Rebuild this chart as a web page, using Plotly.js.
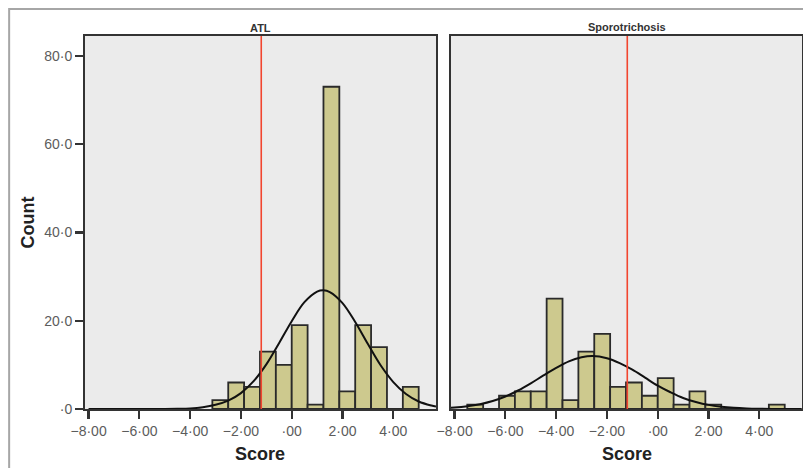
<!DOCTYPE html>
<html>
<head>
<meta charset="utf-8">
<script src="https://cdn.plot.ly/plotly-3.0.1.min.js"></script>
<style>
  html, body { margin: 0; padding: 0; background: #ffffff; }
  #chart { width: 803px; height: 468px; }
</style>
</head>
<body>
<div id="chart"></div>
<script>
// ---- Data ----
const panelTitles = ['ATL', 'Sporotrichosis'];
const binWidth = 0.625;

// ATL histogram: left edge of each bin and its count
const atlBinStart = [-3.125, -2.5, -1.875, -1.25, -0.625, 0, 0.625, 1.25, 1.875, 2.5, 3.125, 3.75, 4.375];
const atlCounts   = [2, 6, 5, 13, 10, 19, 1, 73, 4, 19, 14, 0, 5];

// Sporotrichosis histogram
const sporoBinStart = [-7.5, -6.875, -6.25, -5.625, -5.0, -4.375, -3.75, -3.125, -2.5, -1.875, -1.25, -0.625, 0, 0.625, 1.25, 1.875, 2.5, 3.125, 3.75, 4.375];
const sporoCounts   = [1, 0, 3, 4, 4, 25, 2, 13, 17, 5, 6, 3, 7, 1, 4, 1, 0, 0, 0, 1];

// Normal-curve overlays, points
const atlCurveX = [-8, -7, -6, -5, -4.5, -4, -3.5, -3, -2.5, -2, -1.5, -1, -0.5, 0, 0.5, 1, 1.25, 1.5, 2, 2.5, 3, 3.5, 4, 4.5, 5, 5.5, 5.68];
const atlCurveY = [0, 0, 0, 0.01, 0.04, 0.13, 0.4, 0.95, 1.9, 3.6, 6.3, 10.1, 14.9, 19.9, 24.2, 26.6, 26.9, 26.5, 24.0, 19.7, 14.7, 9.9, 6.1, 3.4, 1.7, 0.78, 0.57];

const sporoCurveX = [-8.18, -8, -7.5, -7, -6.5, -6, -5.5, -5, -4.5, -4, -3.5, -3, -2.57, -2, -1.5, -1, -0.5, 0, 0.5, 1, 1.5, 2, 2.5, 3, 3.5, 4, 4.5, 5, 5.67];
const sporoCurveY = [0.27, 0.32, 0.61, 1.09, 1.81, 2.84, 4.19, 5.82, 7.6, 9.3, 10.8, 11.7, 12.0, 11.5, 10.4, 8.9, 7.1, 5.3, 3.8, 2.5, 1.6, 0.93, 0.52, 0.27, 0.13, 0.06, 0.02, 0.01, 0];

// Reference (cut-off) line
const cutoff = -1.2;

// Axis ticks
const xTickVals = [-8, -6, -4, -2, 0, 2, 4];
const xTickText = ['\u22128\u00b700', '\u22126\u00b700', '\u22124\u00b700', '\u22122\u00b700', '\u00b700', '2\u00b700', '4\u00b700'];
const yTickVals = [0, 20, 40, 60, 80];
const yTickText = ['\u00b70', '20\u00b70', '40\u00b70', '60\u00b70', '80\u00b70'];
const xTitle = 'Score';
const yTitle = 'Count';

// ---- Styling ----
const FONT = 'Liberation Sans, Arial, sans-serif';
const barFill = '#cdc98e';
const barLine = '#2a2a2a';
const frameCol = '#333333';
const panelBg = '#ebebeb';
const tickCol = '#5c5c5c';

function barTrace(xs, ys, xa, ya) {
  return {
    type: 'bar', x: xs, y: ys, xaxis: xa, yaxis: ya,
    width: binWidth, offset: 0,
    marker: { color: barFill, line: { color: barLine, width: 1.8 } },
    hoverinfo: 'skip', showlegend: false
  };
}
function curveTrace(xs, ys, xa, ya) {
  return {
    type: 'scatter', mode: 'lines', x: xs, y: ys, xaxis: xa, yaxis: ya,
    line: { color: '#111111', width: 2, shape: 'spline', smoothing: 1 },
    hoverinfo: 'skip', showlegend: false, cliponaxis: true
  };
}

const data = [
  barTrace(atlBinStart, atlCounts, 'x', 'y'),
  barTrace(sporoBinStart, sporoCounts, 'x2', 'y2'),
  curveTrace(atlCurveX, atlCurveY, 'x', 'y'),
  curveTrace(sporoCurveX, sporoCurveY, 'x2', 'y2')
];

const xRange = [-8.14, 5.68];
const yRange = [0, 84.5];

function xAxis(domain, anchor) {
  return {
    domain: domain, anchor: anchor, range: xRange,
    tickmode: 'array', tickvals: xTickVals, ticktext: xTickText,
    ticks: 'outside', ticklen: 8, tickwidth: 2.2, tickcolor: frameCol,
    showline: true, linecolor: frameCol, linewidth: 2, mirror: true,
    showgrid: false, zeroline: false,
    tickfont: { family: FONT, size: 14, color: tickCol }
  };
}
function yAxis(anchor, labels) {
  return {
    domain: [0, 1], anchor: anchor, range: yRange,
    tickmode: 'array', tickvals: yTickVals, ticktext: yTickText,
    ticks: labels ? 'outside' : '', ticklen: 8, tickwidth: 2.2, tickcolor: frameCol,
    showticklabels: labels,
    showline: true, linecolor: frameCol, linewidth: 2, mirror: true,
    showgrid: false, zeroline: false,
    tickfont: { family: FONT, size: 14, color: tickCol }
  };
}

const leftDom = [0, 0.4895];
const rightDom = [0.5105, 1];

const layout = {
  width: 803, height: 468,
  margin: { l: 85, r: 1, t: 36, b: 59 },
  paper_bgcolor: '#ffffff',
  plot_bgcolor: panelBg,
  barmode: 'overlay',
  xaxis: xAxis(leftDom, 'y'),
  yaxis: yAxis('x', true),
  xaxis2: xAxis(rightDom, 'y2'),
  yaxis2: yAxis('x2', false),
  shapes: [
    { type: 'rect', xref: 'paper', yref: 'paper', x0: -0.1058, x1: 1.2, y0: -0.4, y1: 1.0724,
      line: { color: '#a6a6a6', width: 2 }, fillcolor: 'rgba(0,0,0,0)', layer: 'below' },
    { type: 'line', xref: 'x', yref: 'y domain', x0: cutoff, x1: cutoff, y0: 0, y1: 1,
      line: { color: '#f2452f', width: 1.6 }, layer: 'above' },
    { type: 'line', xref: 'x2', yref: 'y2 domain', x0: cutoff, x1: cutoff, y0: 0, y1: 1,
      line: { color: '#f2452f', width: 1.6 }, layer: 'above' }
  ],
  annotations: [
    { text: '<b>' + panelTitles[0] + '</b>', xref: 'paper', yref: 'paper',
      x: (leftDom[0] + leftDom[1]) / 2, y: 1.0214, showarrow: false,
      xanchor: 'center', yanchor: 'middle', font: { family: FONT, size: 11, color: '#333333' } },
    { text: '<b>' + panelTitles[1] + '</b>', xref: 'paper', yref: 'paper',
      x: (rightDom[0] + rightDom[1]) / 2, y: 1.024, showarrow: false,
      xanchor: 'center', yanchor: 'middle', font: { family: FONT, size: 11, color: '#333333' } },
    { text: '<b>' + xTitle + '</b>', xref: 'paper', yref: 'paper',
      x: (leftDom[0] + leftDom[1]) / 2, y: -0.12, showarrow: false,
      xanchor: 'center', yanchor: 'middle', font: { family: FONT, size: 18, color: '#222222' } },
    { text: '<b>' + xTitle + '</b>', xref: 'paper', yref: 'paper',
      x: (rightDom[0] + rightDom[1]) / 2, y: -0.12, showarrow: false,
      xanchor: 'center', yanchor: 'middle', font: { family: FONT, size: 18, color: '#222222' } },
    { text: '<b>' + yTitle + '</b>', xref: 'paper', yref: 'paper',
      x: -0.0795, y: 0.5, showarrow: false, textangle: -90,
      xanchor: 'center', yanchor: 'middle', font: { family: FONT, size: 18, color: '#222222' } }
  ]
};

Plotly.newPlot('chart', data, layout, { staticPlot: true, displayModeBar: false });
</script>
</body>
</html>
